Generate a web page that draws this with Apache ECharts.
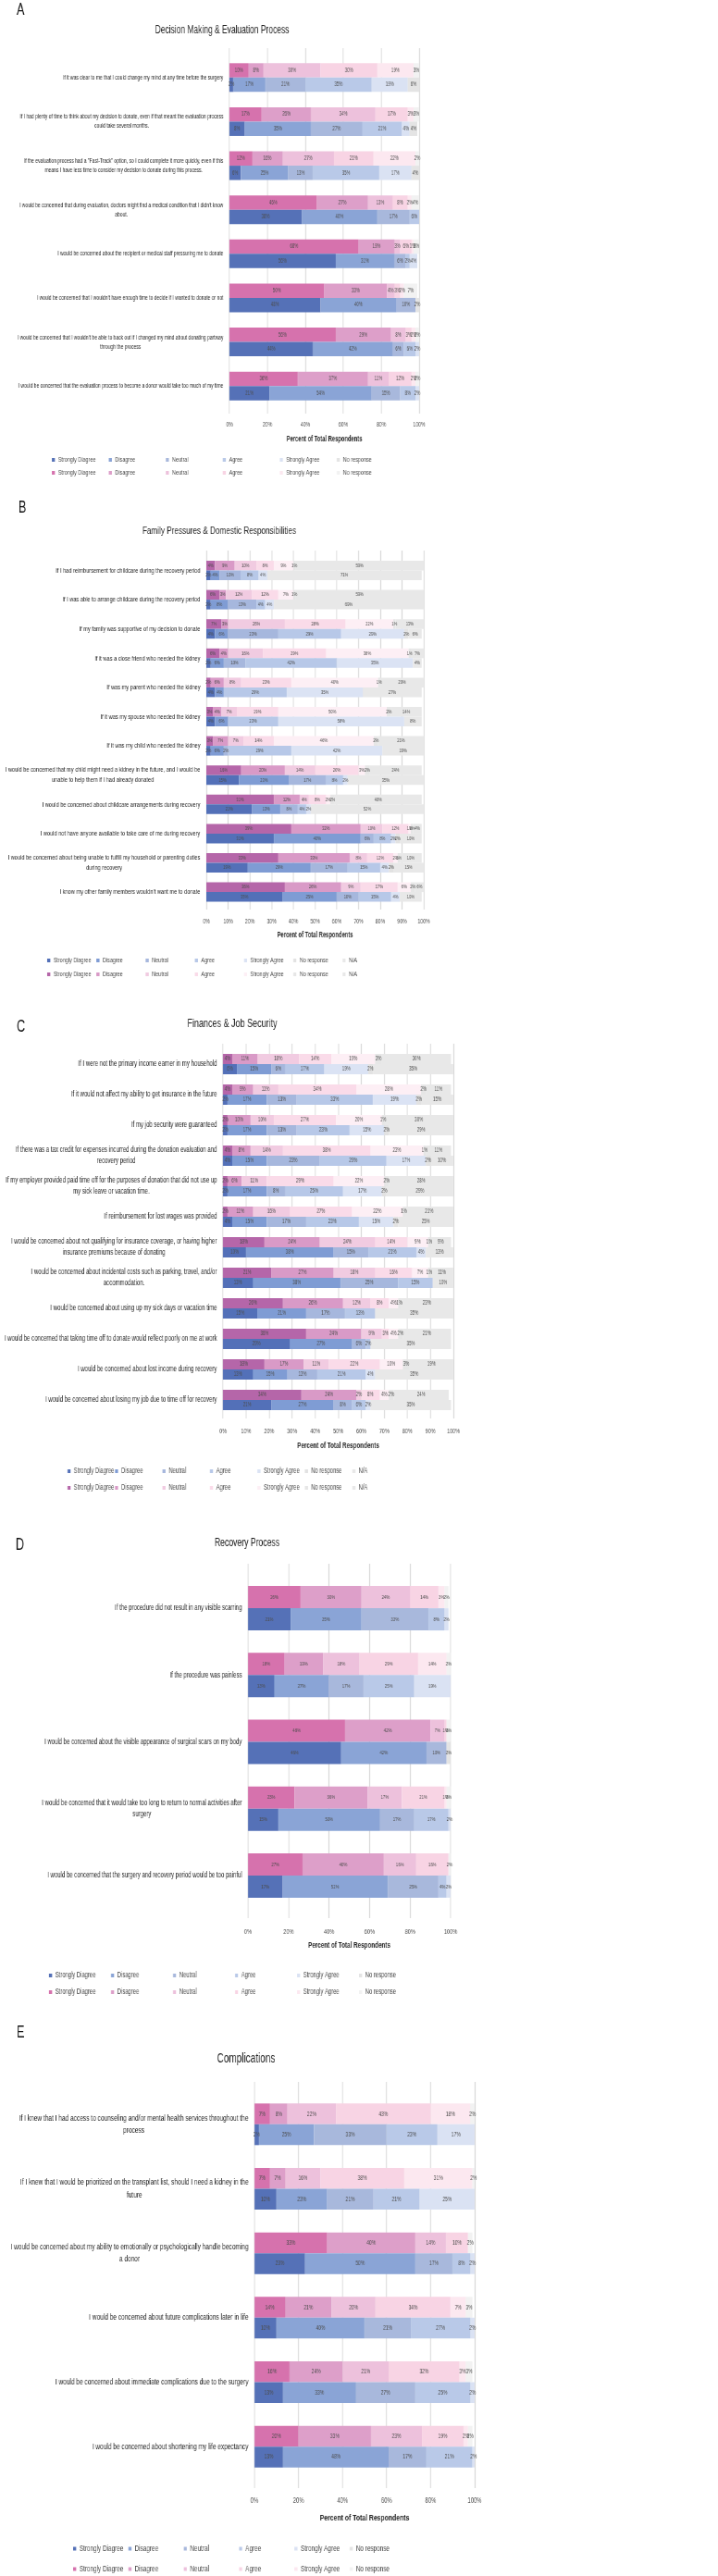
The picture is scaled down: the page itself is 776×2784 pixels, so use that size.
<!DOCTYPE html>
<html><head><meta charset="utf-8">
<script src="https://cdn.jsdelivr.net/npm/echarts@6/dist/echarts.min.js"></script>
<style>
html,body{margin:0;padding:0;overflow:hidden;background:#fff;width:776px;height:2784px}
#c{position:absolute;left:0;top:0;width:1110px;height:2784px;transform:scaleX(0.6991);transform-origin:0 0}
</style></head>
<body><div id="c"></div>
<script>
// ---------------- DATA ----------------
const levels6 = ['Strongly Diagree','Disagree','Neutral','Agree','Strongly Agree','No response'];
const levels7 = ['Strongly Diagree','Disagree','Neutral','Agree','Strongly Agree','No response','N/A'];

const titleA = 'Decision Making & Evaluation Process';
const catA = [
 'If it was clear to me that I could change my mind at any time before the surgery',
 'If I had plenty of time to think about my decision to donate, even if that meant the evaluation process\ncould take several months.',
 'If the evaluation process had a "Fast-Track" option, so I could complete it more quickly, even if this\nmeans I have less time to consider my decision to donate during this process.',
 'I would be concerned that during evaluation, doctors might find a medical condition that I didn\u2019t know\nabout.',
 'I would be concerned about the recipient or medical staff pressuring me to donate',
 'I would be concerned that I wouldn\u2019t have enough time to decide if I wanted to donate or not',
 'I would be concerned that I wouldn\u2019t be able to back out if I changed my mind about donating partway\nthrough the process',
 'I would be concerned that the evaluation process to become a donor would take too much of my time'
];
const pinkA = [
 [10,8,30,30,19,3],[17,26,34,17,3,3],[12,16,27,21,22,2],[46,27,13,8,2,4],
 [68,19,3,6,1,3],[50,33,4,3,2,7],[56,29,8,3,2,2],[36,37,11,12,2,2]
];
const blueA = [
 [2,17,21,35,19,6],[8,35,27,21,4,4],[6,25,13,35,17,4],[38,40,17,6,0,0],
 [56,31,6,2,4,0],[48,40,10,0,0,2],[44,42,6,6,2,0],[21,54,15,8,2,0]
];

const titleB = 'Family Pressures & Domestic Responsibilities';
const catB = [
 'If I had reimbursement for childcare during the recovery period',
 'If I was able to arrange childcare during the recovery period',
 'If my family was supportive of my decision to donate',
 'If it was a close friend who needed the kidney',
 'If was my parent who needed the kidney',
 'If it was my spouse who needed the kidney',
 'If it was my child who needed the kidney',
 'I would be concerned that my child might need a kidney in the future, and I would be\nunable to help them if I had already donated',
 'I would be concerned about childcare arrangements during recovery',
 'I would not have anyone available to take care of me during recovery',
 'I would be concerned about being unable to fulfill my household or parenting duties\nduring recovery',
 'I know my other family members wouldn\u2019t want me to donate'
];
const pinkB = [
 [4,9,10,8,9,1,59],[6,3,12,12,7,1,59],[7,3,26,28,22,1,13],[6,4,16,29,38,1,7],
 [2,6,8,23,40,1,20],[3,4,7,19,50,2,14],[3,7,7,14,46,2,21],[16,20,14,20,3,2,24],
 [31,12,4,8,2,2,40],[39,32,10,12,1,1,4],[33,33,8,12,2,1,10],[36,26,9,17,6,2,6]
];
const blueB = [
 [2,4,10,8,4,0,71],[2,8,13,4,4,0,69],[4,6,23,29,29,2,6],[2,6,10,42,35,0,4],
 [4,4,0,29,35,0,27],[4,6,0,23,58,0,8],[2,6,2,29,42,0,19],[15,23,17,8,2,0,35],
 [21,13,8,4,2,0,52],[31,40,6,8,2,2,10],[19,29,17,15,4,2,15],[35,25,10,15,4,0,10]
];

const titleC = 'Finances & Job Security';
const catC = [
 'If I were not the primary income earner in my household',
 'If it would not affect my ability to get insurance in the future',
 'If my job security were guaranteed',
 'If there was a tax credit for expenses incurred during the donation evaluation and\nrecovery period',
 'If my employer provided paid time off for the purposes of donation that did not use up\nmy sick leave or vacation time.',
 'If reimbursement for lost wages was provided',
 'I would be concerned about not qualifying for insurance coverage, or having higher\ninsurance premiums because of donating',
 'I would be concerned about incidental costs such as parking, travel, and/or\naccommodation.',
 'I would be concerned about using up my sick days or vacation time',
 'I would be concerned that taking time off to donate would reflect poorly on me at work',
 'I would be concerned about lost income during recovery',
 'I would be concerned about losing my job due to time off for recovery'
];
const pinkC = [
 [4,11,18,14,19,3,30],[4,9,11,34,28,2,11],[2,10,10,27,20,1,30],[4,8,14,38,23,1,11],
 [2,6,11,29,22,2,28],[2,11,16,27,22,1,21],[18,24,24,14,9,1,9],[21,27,18,16,7,1,11],
 [26,26,12,8,4,1,23],[36,24,9,3,4,2,21],[18,17,11,22,10,3,19],[34,24,2,8,4,2,24]
];
const blueC = [
 [6,15,6,17,19,2,35],[2,17,13,33,19,2,15],[2,17,13,23,15,2,29],[4,15,23,29,17,2,10],
 [2,17,8,25,17,2,29],[4,15,17,23,15,2,25],[10,38,15,21,4,0,13],[13,38,25,15,0,0,10],
 [15,21,17,13,0,0,35],[29,27,6,2,0,0,35],[13,15,13,21,4,0,35],[21,27,8,6,2,0,35]
];

const titleD = 'Recovery Process';
const catD = [
 'If the procedure did not result in any visible scarring',
 'If the procedure was painless',
 'I would be concerned about the visible appearance of surgical scars on my body',
 'I would be concerned that it would take too long to return to normal activities after\nsurgery',
 'I would be concerned that the surgery and recovery period would be too painful'
];
const pinkD = [[26,30,24,14,3,2],[18,19,18,29,14,2],[48,42,7,1,0,2],[23,36,17,21,1,2],[27,40,16,16,0,2]];
const blueD = [[21,35,33,8,2,0],[13,27,17,25,19,0],[46,42,10,0,0,2],[15,50,17,17,2,0],[17,52,25,4,2,0]];

const titleE = 'Complications';
const catE = [
 'If I knew that I had access to counseling and/or mental health services throughout the\nprocess',
 'If I knew that I would be prioritized on the transplant list, should I need a kidney in the\nfuture',
 'I would be concerned about my ability to emotionally or psychologically handle becoming\na donor',
 'I would be concerned about future complications later in life',
 'I would be concerned about immediate complications due to the surgery',
 'I would be concerned about shortening my life expectancy'
];
const pinkE = [[7,8,22,43,18,2],[7,7,16,38,31,2],[33,40,14,10,0,2],[14,21,20,34,7,3],[16,24,21,32,3,3],[20,33,23,19,2,2]];
const blueE = [[2,25,33,23,17,0],[10,23,21,21,25,0],[23,50,17,8,2,0],[10,40,21,27,2,0],[13,33,27,25,2,0],[13,48,17,21,2,0]];

const axisTitle = 'Percent of Total Respondents';

// ---------------- STYLE / LAYOUT ----------------
const W = 1110, S = 776 / W;
const X = v => v / S;
const FONT = '"Liberation Sans", Arial, sans-serif';
const pinkCol1 = ['#d672ad','#dd9fc9','#edc1dc','#f8d4e4','#fce8f0','#f2f2f2'];
const blueCol1 = ['#5571b7','#8aa4d6','#a8b8dc','#b9c9e8','#dae2f3','#e4e4e4'];
const pinkCol2 = ['#b566a9','#d99ac7','#f1cbe1','#fadbe9','#fdeff5','#e6e6e6','#e8e8e8'];
const blueCol2 = ['#5370b8','#7f9cd4','#a6b7dd','#b7c8e8','#dbe3f4','#e2e2e2','#e8e8e8'];
const TXT = '#1e1e1e';

const panels = [
 {letter:'A', title:titleA, cats:catA, pink:pinkA, blue:blueA, levels:levels6, pc:pinkCol1, bc:blueCol1,
  L:{left:248,right:453,fTop:52,fBot:447,bTop:60,bBot:441,interval:20,barW:15.5,yFont:7.1,yLH:10,tickFont:7.4,tickMargin:8,
     nameFont:8.3,nameGap:23.5,valFont:6.3,legFont:7.8,legX:56,legStep:61.6,legRows:[498,512],tx:240,ty:33,ts:12.1,lx:18,ly:11}},
 {letter:'B', title:titleB, cats:catB, pink:pinkB, blue:blueB, levels:levels7, pc:pinkCol2, bc:blueCol2,
  L:{left:223,right:458,fTop:595,fBot:983,bTop:600.7,bBot:979.9,interval:10,barW:10.5,yFont:8.1,yLH:11,tickFont:7.4,tickMargin:9.5,
     nameFont:8.3,nameGap:23.5,valFont:5.9,legFont:7.8,legX:51,legStep:53.2,legRows:[1039,1054],tx:237,ty:574,ts:11.7,lx:20,ly:549}},
 {letter:'C', title:titleC, cats:catC, pink:pinkC, blue:blueC, levels:levels7, pc:pinkCol2, bc:blueCol2,
  L:{left:241,right:490,fTop:1128,fBot:1533,bTop:1133.5,bBot:1529.5,interval:10,barW:11,yFont:8.7,yLH:12,tickFont:7.8,tickMargin:9.5,
     nameFont:9,nameGap:25.5,valFont:6.4,legFont:8.4,legX:73,legStep:51.3,legRows:[1591,1609],tx:251,ty:1106,ts:12.9,lx:18,ly:1110}},
 {letter:'D', title:titleD, cats:catD, pink:pinkD, blue:blueD, levels:levels6, pc:pinkCol1, bc:blueCol1,
  L:{left:268,right:487,fTop:1690,fBot:2073,bTop:1702,bBot:2063,interval:20,barW:24,yFont:8.6,yLH:12,tickFont:8,tickMargin:10.5,
     nameFont:9,nameGap:25.5,valFont:6.2,legFont:8.4,legX:53,legStep:67,legRows:[2136,2154],tx:267,ty:1668,ts:12.4,lx:17,ly:1670}},
 {letter:'E', title:titleE, cats:catE, pink:pinkE, blue:blueE, levels:levels6, pc:pinkCol1, bc:blueCol1,
  L:{left:275,right:513,fTop:2250,fBot:2689,bTop:2261,bBot:2679,interval:20,barW:22.5,yFont:9.4,yLH:13.3,tickFont:8.4,tickMargin:9.5,
     nameFont:9.8,nameGap:27,valFont:7.1,legFont:9.15,legX:79,legStep:59.8,legRows:[2755,2777],tx:266,ty:2225,ts:14.3,lx:18,ly:2197}}
];

const mctx = document.createElement('canvas').getContext('2d');
function measure(t, size){ mctx.font = size + 'px "Liberation Sans", Arial, sans-serif'; return mctx.measureText(t).width; }

const grid = [], xAxis = [], yAxis = [], series = [], legend = [], graphic = [];

panels.forEach((p, gi) => {
  const L = p.L;
  const fg = 2*gi, bg = 2*gi + 1;
  grid.push({left:X(L.left), width:X(L.right-L.left), top:L.fTop, height:L.fBot-L.fTop, containLabel:false, outerBoundsMode:'none'});
  grid.push({left:X(L.left), width:X(L.right-L.left), top:L.bTop, height:L.bBot-L.bTop, containLabel:false, outerBoundsMode:'none'});
  xAxis.push({gridIndex:fg, type:'value', min:0, max:100, interval:L.interval,
    axisLine:{show:false}, axisTick:{show:false},
    splitLine:{show:true, lineStyle:{color:'#d9d9d9', width:1.4}},
    axisLabel:{formatter:'{value}%', fontSize:L.tickFont, color:'#4a4a4a', margin:L.tickMargin, fontFamily:FONT},
    name:axisTitle, nameLocation:'middle', nameGap:L.nameGap,
    nameTextStyle:{fontWeight:'bold', fontSize:L.nameFont, color:'#262626', fontFamily:FONT}});
  yAxis.push({gridIndex:fg, type:'value', show:false, min:0, max:1});
  xAxis.push({gridIndex:bg, type:'value', min:0, max:100, show:false});
  const rich = {};
  p.cats.forEach((c, i) => {
    const lines = c.split('\n');
    const w = Math.ceil(Math.max(...lines.map(l => measure(l, L.yFont)))) + 1;
    rich['l'+i] = {width:w, align:'center', fontSize:L.yFont, lineHeight:L.yLH, fontFamily:FONT, color:TXT};
  });
  yAxis.push({gridIndex:bg, type:'category', data:p.cats, inverse:true,
    axisLine:{show:false}, axisTick:{show:false}, splitLine:{show:false},
    axisLabel:{interval:0, margin:X(6), fontSize:L.yFont, lineHeight:L.yLH, color:TXT, fontFamily:FONT,
      formatter:(v, i) => v.split('\n').map(l => '{l'+i+'|'+l+'}').join('\n'), rich:rich}});

  const mk = (rows, cols, stack, suffix) => p.levels.forEach((lev, k) => {
    series.push({type:'bar', name:lev + suffix, xAxisIndex:bg, yAxisIndex:bg, stack:stack,
      barWidth:L.barW, barGap:'0%', clip:true, silent:true,
      data:rows.map(r => r[k]),
      itemStyle:{color:cols[k]},
      label:{show:true, position:'inside', fontSize:L.valFont, color:'#4d4d4d', fontFamily:FONT,
        formatter:q => q.value > 0 ? q.value + '%' : ''},
      emphasis:{disabled:true}});
  });
  mk(p.pink, p.pc, 'pink'+gi, ' ');
  mk(p.blue, p.bc, 'blue'+gi, '');

  [['', p.bc], [' ', p.pc]].forEach(([suffix, cols], r) => {
    p.levels.forEach((lev, k) => {
      legend.push({left:X(L.legX + k*L.legStep), top:L.legRows[r] - 5, padding:0, icon:'rect',
        itemWidth:4.7, itemHeight:4, selectedMode:false,
        data:[{name:lev + suffix, icon:'rect', itemStyle:{color:cols[k]}}],
        formatter:n => n.trim(),
        textStyle:{fontSize:L.legFont, color:'#4a4a4a', fontFamily:FONT}});
    });
  });

  graphic.push({type:'text', x:X(L.tx), y:L.ty,
    style:{text:p.title, fontSize:L.ts, fontFamily:FONT, fill:TXT, align:'center', verticalAlign:'middle', textAlign:'center', textVerticalAlign:'middle'}});
  graphic.push({type:'text', x:X(L.lx), y:L.ly,
    style:{text:p.letter, fontSize:18, fontFamily:FONT, fill:'#111', align:'left', verticalAlign:'middle', textAlign:'left', textVerticalAlign:'middle'}});
});

const chart = echarts.init(document.getElementById('c'), null, {renderer:'canvas'});
chart.setOption({animation:false, backgroundColor:'#fff', grid, xAxis, yAxis, series, legend, graphic, tooltip:{show:false}});
</script>
</body></html>
